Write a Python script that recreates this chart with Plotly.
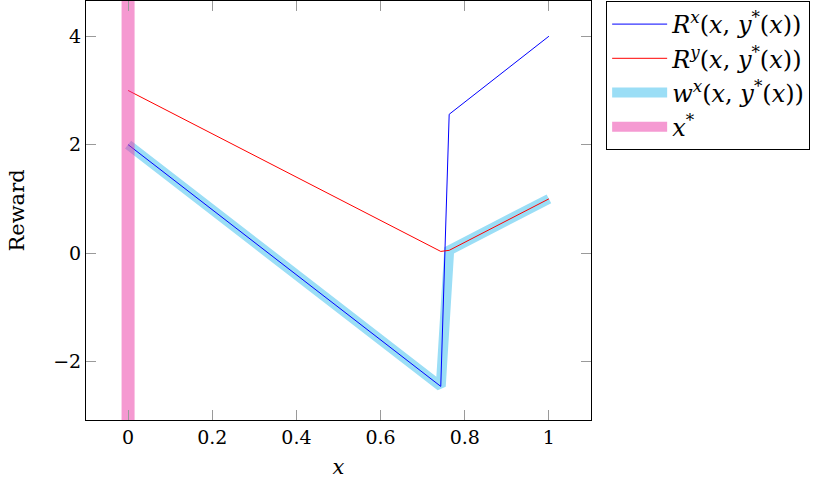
import plotly.graph_objects as go

# sampled points of the reward curves
x_pts = [0.0, 0.743, 0.763, 1.0]
r_x = [2.0, -2.46, 2.56, 4.0]
r_y = [3.0, 0.03, 0.05, 1.0]
w_x = [2.0, -2.46, 0.05, 1.0]

x_star = 0.0
y_range = [-3.08, 4.65]
x_range = [-0.1, 1.1]

x_ticks = [0, 0.2, 0.4, 0.6, 0.8, 1]
x_ticklabels = ["0", "0.2", "0.4", "0.6", "0.8", "1"]
y_ticks = [-2, 0, 2, 4]
y_ticklabels = ["\u22122", "0", "2", "4"]

serif = "DejaVu Serif"

fig = go.Figure()

fig.add_trace(go.Scatter(
    x=x_pts, y=w_x, mode="lines",
    name="<i>w</i><sup><i>x</i></sup>(<i>x</i>, <i>y</i><sup>*</sup>(<i>x</i>))",
    line=dict(color="rgb(155,222,246)", width=10),
    legendrank=3,
))
fig.add_trace(go.Scatter(
    x=x_pts, y=r_x, mode="lines",
    name="<i>R</i><sup><i>x</i></sup>(<i>x</i>, <i>y</i><sup>*</sup>(<i>x</i>))",
    line=dict(color="rgb(0,0,255)", width=1),
    legendrank=1,
))
fig.add_trace(go.Scatter(
    x=x_pts, y=r_y, mode="lines",
    name="<i>R</i><sup><i>y</i></sup>(<i>x</i>, <i>y</i><sup>*</sup>(<i>x</i>))",
    line=dict(color="rgb(255,0,0)", width=1),
    legendrank=2,
))
fig.add_trace(go.Scatter(
    x=[x_star, x_star], y=y_range, mode="lines",
    name="<i>x</i><sup>*</sup>",
    line=dict(color="rgb(236,54,165)", width=13),
    opacity=0.5,
    legendrank=4,
))

axis_common = dict(
    showgrid=False, zeroline=False,
    showline=True, linecolor="black", linewidth=1, mirror="allticks",
    ticks="inside", ticklen=10, tickcolor="#9a9a9a", tickwidth=1,
    tickfont=dict(family=serif, size=19, color="black"),
)

fig.update_xaxes(
    range=x_range, tickvals=x_ticks, ticktext=x_ticklabels,
    title=dict(text="<i>x</i>", font=dict(family=serif, size=21, color="black"), standoff=12),
    **axis_common,
)
fig.update_yaxes(
    range=y_range, tickvals=y_ticks, ticktext=y_ticklabels,
    title=dict(text="Reward", font=dict(family=serif, size=21, color="black"), standoff=22),
    **axis_common,
)

fig.update_layout(
    width=830, height=483,
    plot_bgcolor="white", paper_bgcolor="white",
    margin=dict(l=86, r=239, t=1, b=63),
    font=dict(family=serif, size=19, color="black"),
    legend=dict(
        x=1.03, y=1, xanchor="left", yanchor="top",
        bgcolor="white", bordercolor="black", borderwidth=1,
        font=dict(family=serif, size=24, color="black"),
        tracegroupgap=0,
        itemwidth=55,
    ),
    showlegend=True,
)

fig.write_html("out.html", config={"displayModeBar": False},
               post_script="document.body.style.margin='0';")
